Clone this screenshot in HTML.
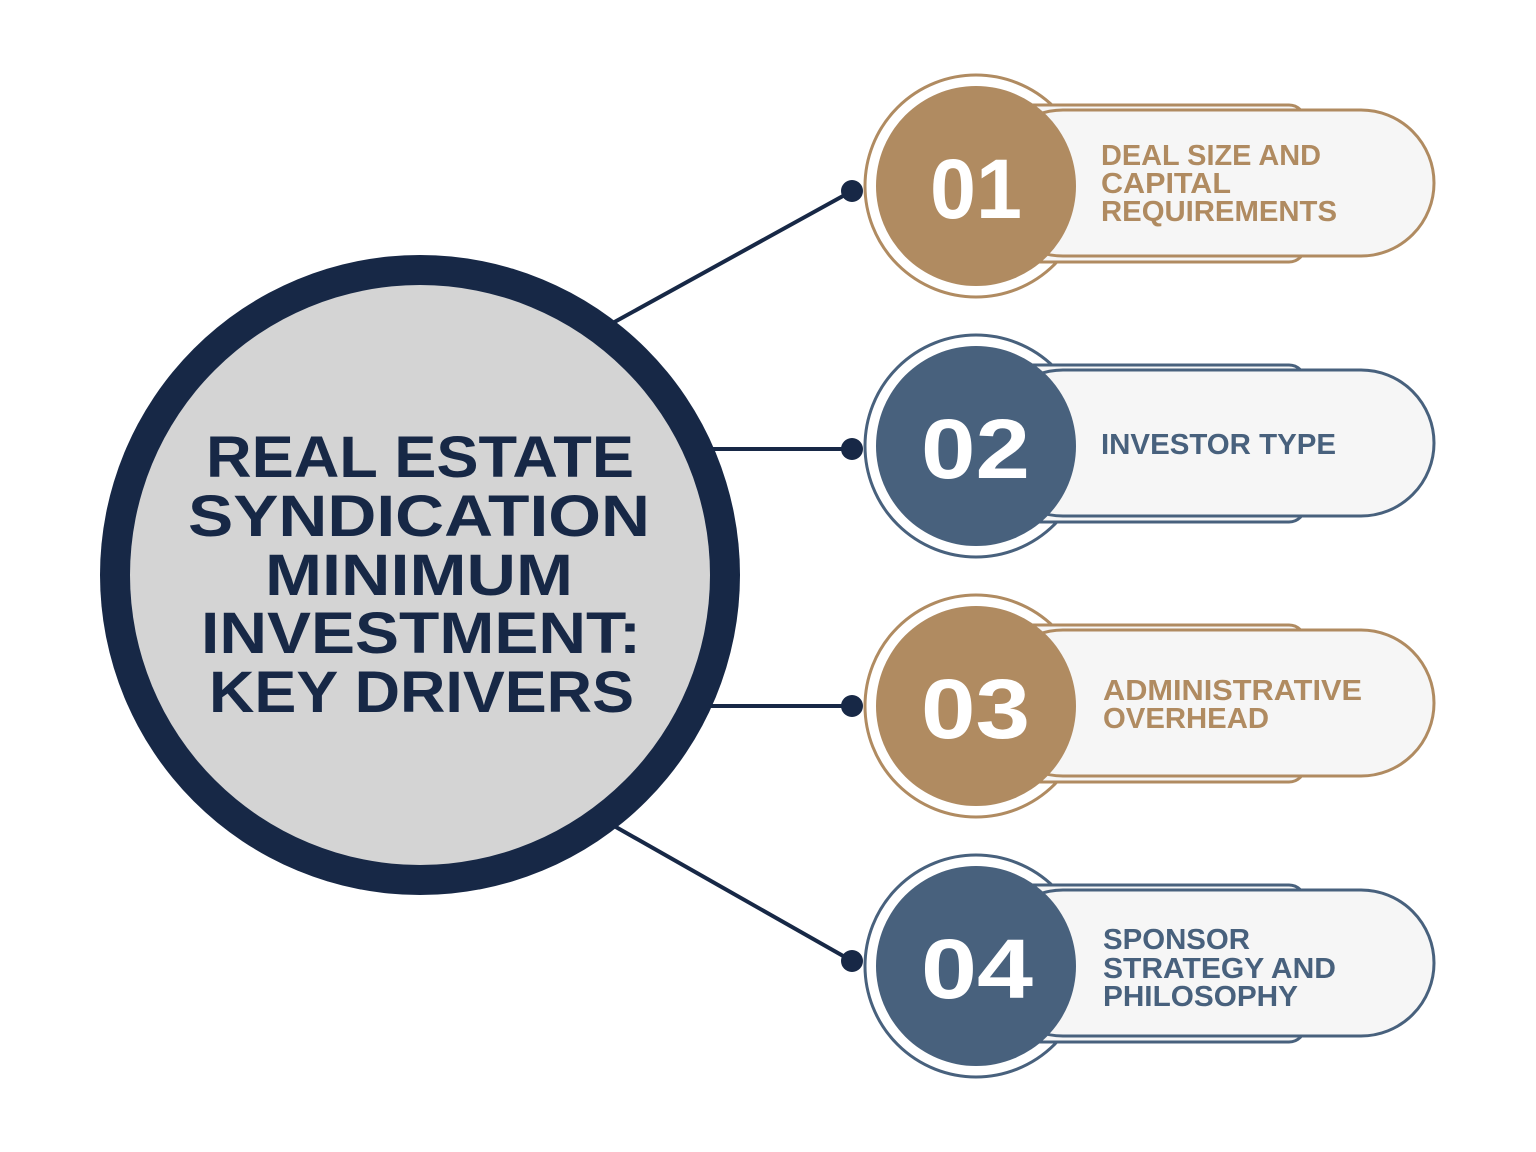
<!DOCTYPE html>
<html><head><meta charset="utf-8"><style>html,body{margin:0;padding:0;background:#fff}svg{display:block}</style></head>
<body>
<svg width="1536" height="1152" viewBox="0 0 1536 1152" xmlns="http://www.w3.org/2000/svg" font-family="Liberation Sans, sans-serif" font-weight="bold">
<rect width="1536" height="1152" fill="#fff"/>
<g stroke="#172846" stroke-width="4">
<line x1="600" y1="330" x2="852" y2="191"/>
<line x1="700" y1="449" x2="852" y2="449"/>
<line x1="700" y1="706" x2="852" y2="706"/>
<line x1="600" y1="818" x2="852" y2="961"/>
</g>
<g fill="#172846">
<circle cx="852" cy="191" r="11"/><circle cx="852" cy="449" r="11"/><circle cx="852" cy="706" r="11"/><circle cx="852" cy="961" r="11"/>
<circle cx="420" cy="575" r="320"/>
</g>
<circle cx="420" cy="575" r="290" fill="#d4d4d4"/>
<g fill="#172846" font-size="58">
<text x="206" y="477" textLength="428" lengthAdjust="spacingAndGlyphs">REAL ESTATE</text>
<text x="188" y="536" textLength="462" lengthAdjust="spacingAndGlyphs">SYNDICATION</text>
<text x="265" y="595" textLength="308" lengthAdjust="spacingAndGlyphs">MINIMUM</text>
<text x="201" y="653" textLength="440" lengthAdjust="spacingAndGlyphs">INVESTMENT:</text>
<text x="209" y="712" textLength="425" lengthAdjust="spacingAndGlyphs">KEY DRIVERS</text>
</g>

<g transform="translate(0,186)">
<circle cx="976" cy="0" r="111" fill="#fff" stroke="#b08b61" stroke-width="3"/>
<rect x="1000" y="-81" width="305" height="157" rx="16" fill="#f6f6f6" stroke="#b08b61" stroke-width="3"/>
<rect x="990" y="-76" width="444" height="146" rx="73" fill="#f6f6f6" stroke="#b08b61" stroke-width="3"/>
<circle cx="976" cy="0" r="100" fill="#b08b61"/>
<text x="930" y="32" font-size="84" fill="#fff" textLength="92" lengthAdjust="spacingAndGlyphs">01</text>
<g fill="#b08b61" font-size="29">
<text x="1101" y="-21" textLength="220" lengthAdjust="spacingAndGlyphs">DEAL SIZE AND</text>
<text x="1101" y="7" textLength="130" lengthAdjust="spacingAndGlyphs">CAPITAL</text>
<text x="1101" y="35" textLength="236" lengthAdjust="spacingAndGlyphs">REQUIREMENTS</text>
</g></g>

<g transform="translate(0,446)">
<circle cx="976" cy="0" r="111" fill="#fff" stroke="#48617d" stroke-width="3"/>
<rect x="1000" y="-81" width="305" height="157" rx="16" fill="#f6f6f6" stroke="#48617d" stroke-width="3"/>
<rect x="990" y="-76" width="444" height="146" rx="73" fill="#f6f6f6" stroke="#48617d" stroke-width="3"/>
<circle cx="976" cy="0" r="100" fill="#48617d"/>
<text x="921" y="32" font-size="84" fill="#fff" textLength="109" lengthAdjust="spacingAndGlyphs">02</text>
<text x="1101" y="8" font-size="29" fill="#48617d" textLength="235" lengthAdjust="spacingAndGlyphs">INVESTOR TYPE</text>
</g>

<g transform="translate(0,706)">
<circle cx="976" cy="0" r="111" fill="#fff" stroke="#b08b61" stroke-width="3"/>
<rect x="1000" y="-81" width="305" height="157" rx="16" fill="#f6f6f6" stroke="#b08b61" stroke-width="3"/>
<rect x="990" y="-76" width="444" height="146" rx="73" fill="#f6f6f6" stroke="#b08b61" stroke-width="3"/>
<circle cx="976" cy="0" r="100" fill="#b08b61"/>
<text x="921" y="32" font-size="84" fill="#fff" textLength="109" lengthAdjust="spacingAndGlyphs">03</text>
<g fill="#b08b61" font-size="29">
<text x="1103" y="-6" textLength="259" lengthAdjust="spacingAndGlyphs">ADMINISTRATIVE</text>
<text x="1103" y="22" textLength="166" lengthAdjust="spacingAndGlyphs">OVERHEAD</text>
</g></g>

<g transform="translate(0,966)">
<circle cx="976" cy="0" r="111" fill="#fff" stroke="#48617d" stroke-width="3"/>
<rect x="1000" y="-81" width="305" height="157" rx="16" fill="#f6f6f6" stroke="#48617d" stroke-width="3"/>
<rect x="990" y="-76" width="444" height="146" rx="73" fill="#f6f6f6" stroke="#48617d" stroke-width="3"/>
<circle cx="976" cy="0" r="100" fill="#48617d"/>
<text x="921" y="32" font-size="84" fill="#fff" textLength="112" lengthAdjust="spacingAndGlyphs">04</text>
<g fill="#48617d" font-size="29">
<text x="1103" y="-17" textLength="147" lengthAdjust="spacingAndGlyphs">SPONSOR</text>
<text x="1103" y="12" textLength="233" lengthAdjust="spacingAndGlyphs">STRATEGY AND</text>
<text x="1103" y="40" textLength="195" lengthAdjust="spacingAndGlyphs">PHILOSOPHY</text>
</g></g>
</svg>
</body></html>
